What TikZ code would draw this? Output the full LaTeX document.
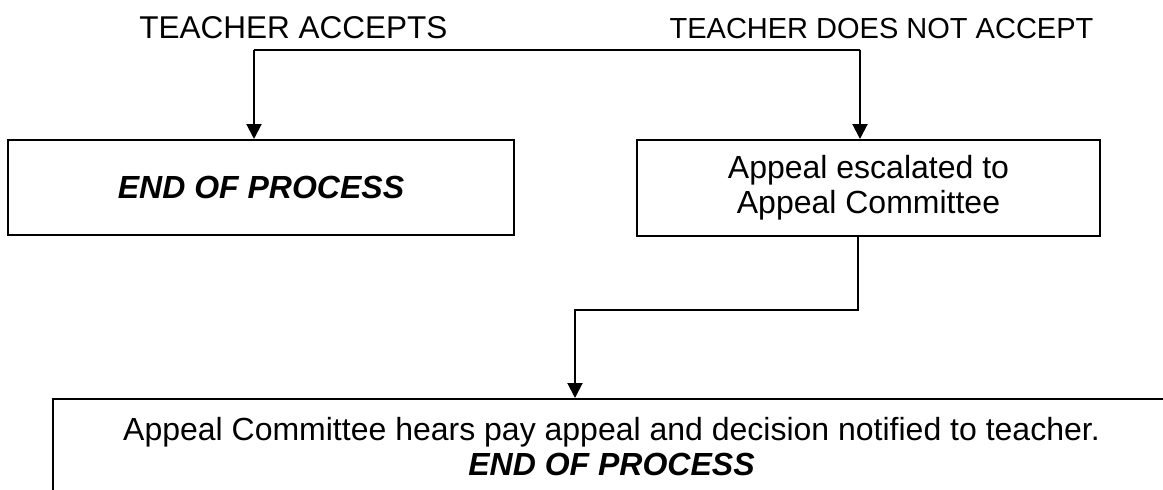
\documentclass[tikz,border=0pt]{standalone}
\usepackage{fontspec}
\setmainfont{Liberation Sans}
\usetikzlibrary{arrows.meta}
\begin{document}
\begin{tikzpicture}[x=1pt,y=-1pt,
  boxtext/.style={font=\fontsize{32}{35}\selectfont},
  boxnode/.style={boxtext,draw=black,line width=2pt,rectangle,inner sep=0pt,align=center},
  conn/.style={line width=2pt},
  arr/.style={conn,-{Triangle[width=15pt,length=15pt]}}]
\useasboundingbox (0,0) rectangle (1163,490);
\clip (0,0) rectangle (1163,490);
\fill[white] (0,0) rectangle (1163,490);
% labels
\node[anchor=base,font=\fontsize{31.5}{35}\selectfont] (la) at (293.5,38) {TEACHER ACCEPTS};
\node[anchor=base,font=\fontsize{29}{35}\selectfont] (lb) at (881.5,38) {TEACHER DOES NOT ACCEPT};
% boxes
\node[boxnode,minimum width=506pt,minimum height=95pt] (endA) at (261,187.5)
  {\textbf{\textit{END OF PROCESS}}};
\node[boxnode,minimum width=463pt,minimum height=96pt] (esc) at (868.5,188)
  {Appeal escalated to\\Appeal Committee};
\node[boxnode,minimum width=1117pt,minimum height=95pt] (hear) at (611.5,446.5)
  {Appeal Committee hears pay appeal and decision notified to teacher.\\\textbf{\textit{END OF PROCESS}}};
% connectors
\coordinate (tl) at (254,49.5);
\coordinate (tr) at (860,49.5);
\coordinate (b1) at (858,310);
\coordinate (b2) at (575,310);
\draw[conn] (tl) -- (tr);
\draw[arr] (tl) -- (tl |- endA.north);
\draw[arr] (tr) -- (tr |- esc.north);
\draw[arr] (esc.south -| b1) -- (b1) -- (b2) -- (b2 |- hear.north);
\end{tikzpicture}
\end{document}
